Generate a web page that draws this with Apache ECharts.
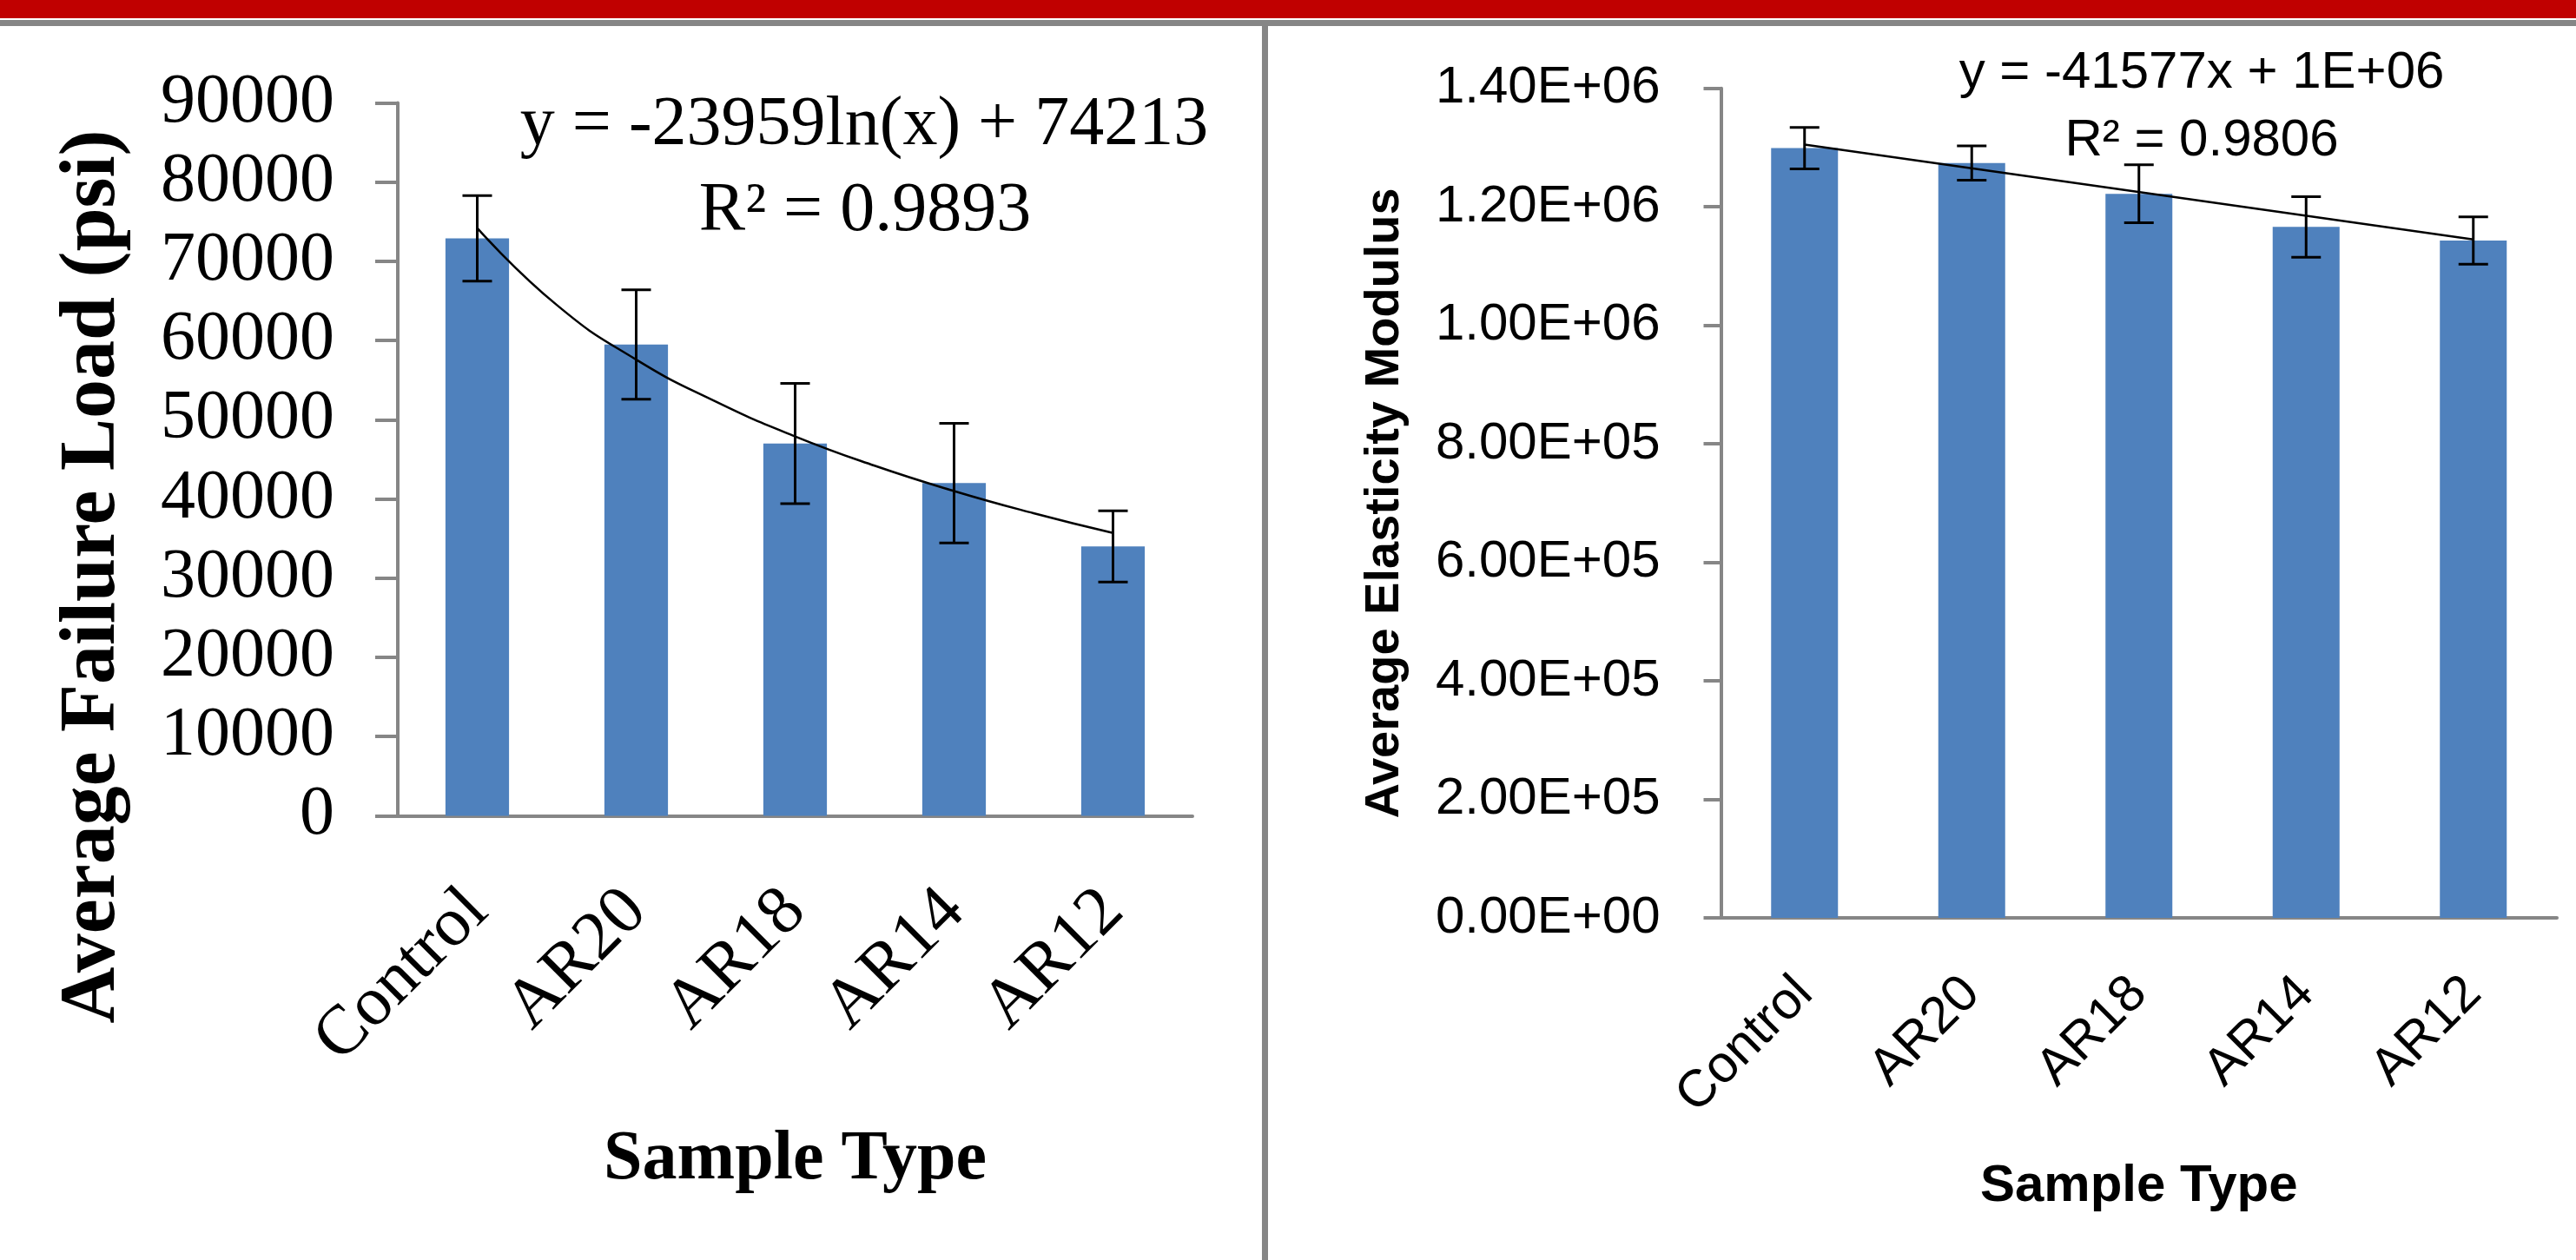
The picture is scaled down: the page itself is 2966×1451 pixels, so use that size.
<!DOCTYPE html>
<html><head><meta charset="utf-8">
<script src="https://cdn.jsdelivr.net/npm/echarts@6/dist/echarts.min.js"></script>
<style>html,body{margin:0;padding:0;background:#fff}#c{width:2966px;height:1451px}</style>
</head><body><div id="c"></div>
<script>
// ---- data ----
const categories = ['Control', 'AR20', 'AR18', 'AR14', 'AR12'];

const failureLoad = [72900, 59500, 47000, 42000, 34000];
const failureLoadErr = [5400, 6900, 7600, 7550, 4500];
const failureTrendX = [1, 1.5, 2, 2.5, 3, 3.5, 4, 4.5, 5];
const failureTrendY = [74200, 64500, 57600, 52300, 47900, 44200, 41000, 38200, 35700];
const failureTicks = ['0', '10000', '20000', '30000', '40000', '50000', '60000', '70000', '80000', '90000'];

const elasticity = [1299000, 1274000, 1222000, 1166000, 1143000];
const elasticityErr = [35000, 29000, 49000, 51000, 40000];
const elasticityTrendX = [1, 5];
const elasticityTrendY = [1305000, 1145000];
const elasticityTicks = ['0.00E+00', '2.00E+05', '4.00E+05', '6.00E+05', '8.00E+05', '1.00E+06', '1.20E+06', '1.40E+06'];

const leftEquation = 'y = -23959ln(x) + 74213';
const leftR2 = 'R² = 0.9893';
const rightEquation = 'y = -41577x + 1E+06';
const rightR2 = 'R² = 0.9806';
const leftYTitle = 'Average Failure Load (psi)';
const rightYTitle = 'Average Elasticity Modulus';
const xTitle = 'Sample Type';

// ---- styles ----
const GRAY = '#868686';
const BLUE = '#4F81BD';
const SERIF = '"Liberation Serif", "Times New Roman", serif';
const SANS = '"Liberation Sans", Arial, sans-serif';

function errRender(params, api) {
  const i = api.value(0);
  const lo = api.coord([i, api.value(1)]);
  const hi = api.coord([i, api.value(2)]);
  const w = 17;
  const style = { stroke: '#000', lineWidth: 3 };
  return {
    type: 'group', children: [
      { type: 'line', shape: { x1: hi[0], y1: hi[1], x2: lo[0], y2: lo[1] }, style },
      { type: 'line', shape: { x1: hi[0] - w, y1: hi[1], x2: hi[0] + w, y2: hi[1] }, style },
      { type: 'line', shape: { x1: lo[0] - w, y1: lo[1], x2: lo[0] + w, y2: lo[1] }, style }
    ]
  };
}

const axisLineStyle = { color: GRAY, width: 4 };

const chart = echarts.init(document.getElementById('c'), null, { renderer: 'canvas' });
chart.setOption({
  animation: false,
  backgroundColor: '#fff',
  grid: [
    { left: 458, top: 118.6, width: 915, height: 820.8 },
    { left: 1981.5, top: 101.7, width: 962.5, height: 955.3 }
  ],
  xAxis: [
    {
      type: 'category', gridIndex: 0, data: categories,
      axisLine: { lineStyle: axisLineStyle },
      axisTick: { length: 30, lineStyle: axisLineStyle },
      axisLabel: { rotate: 45, margin: 98, verticalAlign: 'middle', fontFamily: SERIF, fontSize: 80, color: '#000' },
      name: xTitle, nameLocation: 'middle', nameGap: 397,
      nameTextStyle: { fontFamily: SERIF, fontWeight: 'bold', fontSize: 80, color: '#000', verticalAlign: 'middle' }
    },
    { type: 'value', gridIndex: 0, min: 0.5, max: 5.5, show: false },
    {
      type: 'category', gridIndex: 1, data: categories,
      axisLine: { lineStyle: axisLineStyle },
      axisTick: { length: 24, lineStyle: axisLineStyle },
      axisLabel: { rotate: 45, margin: 78, verticalAlign: 'middle', fontFamily: SANS, fontSize: 60, color: '#000' },
      name: xTitle, nameLocation: 'middle', nameGap: 309,
      nameTextStyle: { fontFamily: SANS, fontWeight: 'bold', fontSize: 60, color: '#000', verticalAlign: 'middle' }
    },
    { type: 'value', gridIndex: 1, min: 0.5, max: 5.5, show: false }
  ],
  yAxis: [
    {
      type: 'value', gridIndex: 0, min: 0, max: 90000, interval: 10000,
      axisLine: { show: true, lineStyle: axisLineStyle },
      axisTick: { show: true, length: 26, lineStyle: axisLineStyle },
      splitLine: { show: false },
      axisLabel: {
        margin: 73, fontFamily: SERIF, fontSize: 80, color: '#000',
        formatter: v => failureTicks[Math.round(v / 10000)]
      }
    },
    {
      type: 'value', gridIndex: 1, min: 0, max: 1400000, interval: 200000,
      axisLine: { show: true, lineStyle: axisLineStyle },
      axisTick: { show: true, length: 20, lineStyle: axisLineStyle },
      splitLine: { show: false },
      axisLabel: {
        margin: 70, fontFamily: SANS, fontSize: 60, color: '#000',
        formatter: v => elasticityTicks[Math.round(v / 200000)]
      },
      name: rightYTitle, nameLocation: 'middle', nameRotate: 90, nameGap: 387,
      nameTextStyle: { fontFamily: SANS, fontWeight: 'bold', fontSize: 56, color: '#000', verticalAlign: 'middle' }
    }
  ],
  series: [
    {
      type: 'bar', xAxisIndex: 0, yAxisIndex: 0, data: failureLoad,
      barWidth: '40%', itemStyle: { color: BLUE }, z: 2
    },
    {
      type: 'line', xAxisIndex: 1, yAxisIndex: 0,
      data: failureTrendX.map((x, i) => [x, failureTrendY[i]]),
      smooth: true, showSymbol: false, symbol: 'none',
      lineStyle: { color: '#000', width: 2.5 }, z: 3
    },
    {
      type: 'custom', xAxisIndex: 0, yAxisIndex: 0, renderItem: errRender,
      encode: { x: 0, y: [1, 2] },
      data: failureLoad.map((v, i) => [i, v - failureLoadErr[i], v + failureLoadErr[i]]), z: 4
    },
    {
      type: 'bar', xAxisIndex: 2, yAxisIndex: 1, data: elasticity,
      barWidth: '40%', itemStyle: { color: BLUE }, z: 2
    },
    {
      type: 'line', xAxisIndex: 3, yAxisIndex: 1,
      data: elasticityTrendX.map((x, i) => [x, elasticityTrendY[i]]),
      showSymbol: false, symbol: 'none',
      lineStyle: { color: '#000', width: 2.5 }, z: 3
    },
    {
      type: 'custom', xAxisIndex: 2, yAxisIndex: 1, renderItem: errRender,
      encode: { x: 0, y: [1, 2] },
      data: elasticity.map((v, i) => [i, v - elasticityErr[i], v + elasticityErr[i]]), z: 4
    }
  ],
  graphic: [
    { type: 'rect', shape: { x: 0, y: 0, width: 2966, height: 21 }, style: { fill: '#C00000' }, silent: true },
    { type: 'rect', shape: { x: 0, y: 23, width: 2966, height: 7 }, style: { fill: GRAY }, silent: true },
    { type: 'rect', shape: { x: 1453, y: 29, width: 7, height: 1422 }, style: { fill: GRAY }, silent: true },
    {
      type: 'text', x: 108, y: 664, rotation: Math.PI / 2,
      style: { text: leftYTitle, fontFamily: SERIF, fontWeight: 'bold', fontSize: 90, fill: '#000', align: 'center', verticalAlign: 'middle' }
    },
    {
      type: 'text', x: 995, y: 145,
      style: { text: leftEquation, fontFamily: SERIF, fontSize: 80, fill: '#000', align: 'center', verticalAlign: 'middle' }
    },
    {
      type: 'text', x: 996, y: 244,
      style: { text: leftR2, fontFamily: SERIF, fontSize: 80, fill: '#000', align: 'center', verticalAlign: 'middle' }
    },
    {
      type: 'text', x: 2535, y: 84,
      style: { text: rightEquation, fontFamily: SANS, fontSize: 60, fill: '#000', align: 'center', verticalAlign: 'middle' }
    },
    {
      type: 'text', x: 2535, y: 162,
      style: { text: rightR2, fontFamily: SANS, fontSize: 60, fill: '#000', align: 'center', verticalAlign: 'middle' }
    }
  ]
});
</script>
</body></html>
